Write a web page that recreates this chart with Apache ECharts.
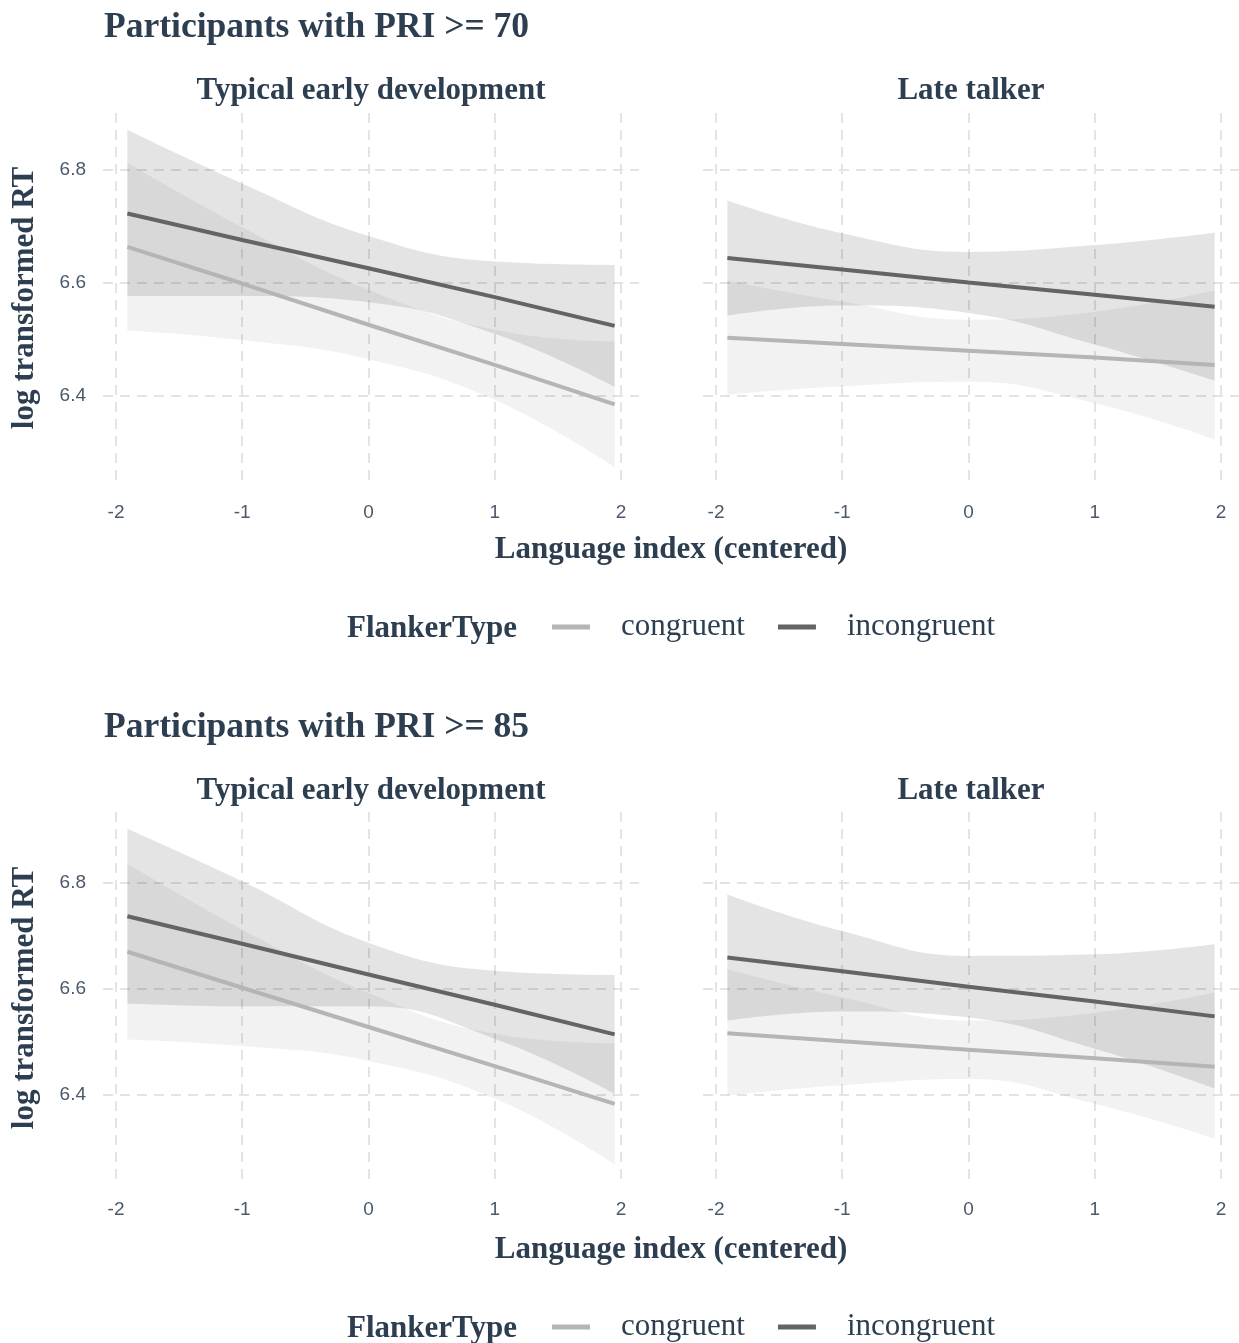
<!DOCTYPE html>
<html>
<head>
<meta charset="utf-8">
<script src="https://cdn.jsdelivr.net/npm/echarts@6/dist/echarts.min.js"></script>
<style>
html,body{margin:0;padding:0;background:#fff;}
#chart{width:1239px;height:1343px;}
</style>
</head>
<body>
<div id="chart"></div>
<script>
// ---------------- data ----------------
const xValues = [-1.91, -1, 0, 1, 1.95];
const xTicks = [-2, -1, 0, 1, 2];
const yTicks = [6.4, 6.6, 6.8];
const facetTitles = ['Typical early development', 'Late talker'];
const panelTitles = ['Participants with PRI >= 70', 'Participants with PRI >= 85'];
const legendNames = ['congruent', 'incongruent'];

// PRI >= 70, Typical early development
const p70tdConLine = [6.664, 6.599, 6.526, 6.455, 6.385];
const p70tdConLow  = [6.516, 6.499, 6.465, 6.393, 6.274];
const p70tdConUp   = [6.813, 6.699, 6.588, 6.517, 6.496];
const p70tdIncLine = [6.723, 6.676, 6.626, 6.575, 6.524];
const p70tdIncLow  = [6.577, 6.577, 6.566, 6.510, 6.416];
const p70tdIncUp   = [6.871, 6.776, 6.683, 6.638, 6.632];
// PRI >= 70, Late talker
const p70ltConLine = [6.503, 6.492, 6.480, 6.468, 6.455];
const p70ltConLow  = [6.402, 6.417, 6.425, 6.387, 6.323];
const p70ltConUp   = [6.604, 6.567, 6.535, 6.549, 6.587];
const p70ltIncLine = [6.644, 6.624, 6.601, 6.579, 6.558];
const p70ltIncLow  = [6.542, 6.560, 6.547, 6.491, 6.427];
const p70ltIncUp   = [6.746, 6.688, 6.655, 6.667, 6.689];
// PRI >= 85, Typical early development
const p85tdConLine = [6.670, 6.602, 6.528, 6.454, 6.383];
const p85tdConLow  = [6.504, 6.492, 6.464, 6.393, 6.269];
const p85tdConUp   = [6.836, 6.712, 6.592, 6.515, 6.497];
const p85tdIncLine = [6.737, 6.685, 6.627, 6.570, 6.514];
const p85tdIncLow  = [6.572, 6.567, 6.567, 6.506, 6.402];
const p85tdIncUp   = [6.902, 6.803, 6.687, 6.634, 6.626];
// PRI >= 85, Late talker
const p85ltConLine = [6.516, 6.501, 6.485, 6.469, 6.453];
const p85ltConLow  = [6.399, 6.418, 6.430, 6.383, 6.317];
const p85ltConUp   = [6.637, 6.584, 6.540, 6.555, 6.593];
const p85ltIncLine = [6.659, 6.633, 6.604, 6.576, 6.548];
const p85ltIncLow  = [6.540, 6.557, 6.546, 6.487, 6.412];
const p85ltIncUp   = [6.778, 6.709, 6.662, 6.665, 6.684];

// ---------------- styling ----------------
const SERIF = '"Liberation Serif","DejaVu Serif",serif';
const SANS = '"Liberation Sans",Arial,sans-serif';
const TITLE_COLOR = '#2c3e50';
const TICK_COLOR = '#4b596a';
const GRID_COLOR = '#e4e4e4';
const CON_COLOR = '#b5b5b5';
const INC_COLOR = '#646464';
const CON_BAND = 'rgba(0,0,0,0.05)';
const INC_BAND = 'rgba(0,0,0,0.105)';

const facets = [
  {con: p70tdConLine, conLow: p70tdConLow, conUp: p70tdConUp, inc: p70tdIncLine, incLow: p70tdIncLow, incUp: p70tdIncUp},
  {con: p70ltConLine, conLow: p70ltConLow, conUp: p70ltConUp, inc: p70ltIncLine, incLow: p70ltIncLow, incUp: p70ltIncUp},
  {con: p85tdConLine, conLow: p85tdConLow, conUp: p85tdConUp, inc: p85tdIncLine, incLow: p85tdIncLow, incUp: p85tdIncUp},
  {con: p85ltConLine, conLow: p85ltConLow, conUp: p85ltConUp, inc: p85ltIncLine, incLow: p85ltIncLow, incUp: p85ltIncUp}
];

// ggplot-style 5% expansion
function expand(vals) {
  const mn = Math.min(...vals), mx = Math.max(...vals), s = (mx - mn) * 0.05;
  return [mn - s, mx + s];
}
const xExt = expand(xValues);
const yExt = [0, 1].map(p => expand([].concat(
  facets[2*p].conLow, facets[2*p].conUp, facets[2*p].incLow, facets[2*p].incUp,
  facets[2*p+1].conLow, facets[2*p+1].conUp, facets[2*p+1].incLow, facets[2*p+1].incUp)));

const panelOffset = [0, 700];
const gridLayout = [
  {left: 103, top: 113, width: 536, height: 371},
  {left: 703, top: 113, width: 536, height: 371},
  {left: 103, top: 812, width: 536, height: 369},
  {left: 703, top: 812, width: 536, height: 369}
];

const splitLine = {show: true, lineStyle: {color: GRID_COLOR, width: 2, type: [10, 7]}};

const grids = gridLayout.map(g => Object.assign({}, g));
const xAxes = gridLayout.map((g, i) => ({
  type: 'value', gridIndex: i, min: xExt[0], max: xExt[1],
  axisLine: {show: false}, axisTick: {show: false, customValues: xTicks},
  axisLabel: {show: true, customValues: xTicks, margin: 19, color: TICK_COLOR,
              fontFamily: SANS, fontSize: 19, formatter: v => String(v)},
  splitLine: splitLine
}));
const yAxes = gridLayout.map((g, i) => ({
  type: 'value', gridIndex: i, min: yExt[Math.floor(i/2)][0], max: yExt[Math.floor(i/2)][1],
  axisLine: {show: false}, axisTick: {show: false, customValues: yTicks},
  axisLabel: {show: i % 2 === 0, customValues: yTicks, margin: 17, color: TICK_COLOR,
              fontFamily: SANS, fontSize: 19, formatter: v => v.toFixed(1)},
  splitLine: splitLine
}));

const pairs = arr => xValues.map((x, i) => [x, arr[i]]);
// band rows are [yValue, xValue] so that the stack is computed on y
const bandRows = arr => xValues.map((x, i) => [arr[i], x]);
const diffRows = (up, low) => xValues.map((x, i) => [+(up[i] - low[i]).toFixed(4), x]);

const lineSeries = [];
const bandSeries = [];
facets.forEach((f, i) => {
  lineSeries.push({
    type: 'line', name: 'congruent', xAxisIndex: i, yAxisIndex: i, data: pairs(f.con),
    symbol: 'none', color: CON_COLOR, lineStyle: {color: CON_COLOR, width: 4}, z: 4, silent: true
  });
  lineSeries.push({
    type: 'line', name: 'incongruent', xAxisIndex: i, yAxisIndex: i, data: pairs(f.inc),
    symbol: 'none', color: INC_COLOR, lineStyle: {color: INC_COLOR, width: 4}, z: 5, silent: true
  });
  [['con', f.conLow, f.conUp, CON_BAND], ['inc', f.incLow, f.incUp, INC_BAND]].forEach(([k, low, up, col]) => {
    const st = 'band-' + i + '-' + k;
    bandSeries.push({
      type: 'line', name: k + ' band low ' + i, xAxisIndex: i, yAxisIndex: i, stack: st,
      encode: {x: 1, y: 0}, data: bandRows(low), symbol: 'none', smooth: 0.45,
      lineStyle: {width: 0, opacity: 0}, z: 1, silent: true
    });
    bandSeries.push({
      type: 'line', name: k + ' band ' + i, xAxisIndex: i, yAxisIndex: i, stack: st,
      encode: {x: 1, y: 0}, data: diffRows(up, low), symbol: 'none', smooth: 0.45,
      lineStyle: {width: 0, opacity: 0}, areaStyle: {color: col, opacity: 1}, z: 1, silent: true
    });
  });
});

const legends = panelOffset.map(off => ({
  data: legendNames.map((n, j) => ({name: n, itemStyle: {color: j === 0 ? CON_COLOR : INC_COLOR}})),
  left: 552, top: 611 + off, orient: 'horizontal', padding: 0,
  icon: 'rect', itemWidth: 38, itemHeight: 5, itemGap: 33, selectedMode: false,
  textStyle: {fontFamily: SERIF, fontSize: 31, color: TITLE_COLOR, padding: [0, 0, 0, 26], lineHeight: 32}
}));

const graphics = [];
panelOffset.forEach((off, p) => {
  graphics.push({type: 'text', x: 104, y: 28 + off, style: {text: panelTitles[p], font: 'bold 35.5px ' + SERIF,
    fill: TITLE_COLOR, align: 'left', verticalAlign: 'middle', textAlign: 'left', textVerticalAlign: 'middle'}});
  [371, 971].forEach((cx, k) => graphics.push({type: 'text', x: cx, y: 91 + off, style: {text: facetTitles[k],
    font: 'bold 31px ' + SERIF, fill: TITLE_COLOR, align: 'center', verticalAlign: 'middle', textAlign: 'center', textVerticalAlign: 'middle'}}));
  graphics.push({type: 'text', x: 25, y: 298 + off, rotation: Math.PI / 2, style: {text: 'log transformed RT',
    font: 'bold 31px ' + SERIF, fill: TITLE_COLOR, align: 'center', verticalAlign: 'middle', textAlign: 'center', textVerticalAlign: 'middle'}});
  graphics.push({type: 'text', x: 671, y: 550 + off, style: {text: 'Language index (centered)',
    font: 'bold 31px ' + SERIF, fill: TITLE_COLOR, align: 'center', verticalAlign: 'middle', textAlign: 'center', textVerticalAlign: 'middle'}});
  graphics.push({type: 'text', x: 347, y: 629 + off, style: {text: 'FlankerType',
    font: 'bold 31px ' + SERIF, fill: TITLE_COLOR, align: 'left', verticalAlign: 'middle', textAlign: 'left', textVerticalAlign: 'middle'}});
});

const chart = echarts.init(document.getElementById('chart'), null, {renderer: 'canvas'});
chart.setOption({
  backgroundColor: '#ffffff',
  animation: false,
  grid: grids,
  xAxis: xAxes,
  yAxis: yAxes,
  legend: legends,
  graphic: graphics,
  series: lineSeries.concat(bandSeries)
});
</script>
</body>
</html>
